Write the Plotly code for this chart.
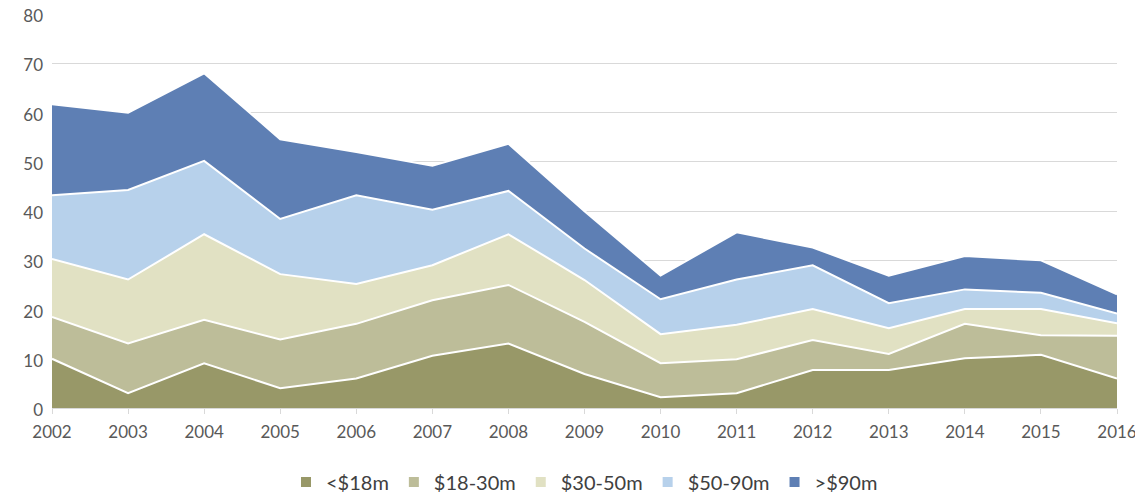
import plotly.graph_objects as go

years = list(range(2002, 2017))

under_18 = [10, 3, 9.1, 4, 6, 10.6, 13.1, 6.9, 2.2, 3, 7.7, 7.7, 10.1, 10.8, 6]
b18_30 = [8.5, 10.1, 8.8, 9.9, 11.1, 11.3, 11.9, 10.6, 6.9, 6.9, 6.1, 3.3, 7, 4, 8.7]
b30_50 = [11.8, 13, 17.4, 13.3, 8.1, 7.1, 10.3, 8.5, 5.9, 7, 6.3, 5.2, 3, 5.3, 2.5]
b50_90 = [12.9, 18.2, 14.9, 11.2, 18, 11.3, 8.8, 6.4, 7.1, 9.2, 8.9, 5.1, 4, 3.3, 2]
over_90 = [18.5, 15.7, 17.8, 16.2, 8.8, 8.9, 9.6, 7.6, 4.8, 9.6, 3.6, 5.6, 6.8, 6.6, 3.9]

series = [
    ("<$18m", under_18, "#989868"),
    ("$18-30m", b18_30, "#bdbd99"),
    ("$30-50m", b30_50, "#e1e1c3"),
    ("$50-90m", b50_90, "#b7d1eb"),
    (">$90m", over_90, "#5e7fb4"),
]

fig = go.Figure()
for name, vals, color in series:
    fig.add_trace(go.Scatter(
        x=years,
        y=vals,
        name=name,
        mode="lines",
        stackgroup="one",
        line=dict(color="#ffffff", width=2),
        fillcolor=color,
        showlegend=False,
    ))

# square legend keys, like the original
for name, vals, color in series:
    fig.add_trace(go.Scatter(
        x=[None],
        y=[None],
        name=name,
        mode="markers",
        marker=dict(symbol="square", size=10, color=color),
    ))

# page body adds an 8px offset, so the figure is a bit smaller than the window
fig.update_layout(
    width=1135,
    height=487,
    margin=dict(l=44, r=26, t=6, b=87, autoexpand=False),
    paper_bgcolor="#ffffff",
    plot_bgcolor="#ffffff",
    font=dict(family="Lato, 'Open Sans', sans-serif", size=17, color="#595959"),
    showlegend=True,
    legend=dict(
        orientation="h",
        x=0.5,
        xanchor="center",
        y=-0.188,
        yanchor="middle",
        font=dict(size=20, color="#404040"),
        traceorder="normal",
        itemwidth=30,
    ),
    xaxis=dict(
        range=[2002, 2016],
        tickmode="array",
        tickvals=years,
        ticktext=[str(y) for y in years],
        showgrid=False,
        showline=True,
        linecolor="#d9d9d9",
        linewidth=1,
        ticks="outside",
        ticklen=5,
        tickcolor="#d9d9d9",
        zeroline=False,
        ticklabelstandoff=4,
        ticklabeloverflow="allow",
    ),
    yaxis=dict(
        range=[0, 80.05],
        tickvals=[0, 10, 20, 30, 40, 50, 60, 70, 80],
        showgrid=True,
        gridcolor="#d9d9d9",
        gridwidth=1,
        zeroline=False,
        ticks="",
        ticklabelstandoff=8,
        ticklabelshift=2,
        ticklabeloverflow="allow",
    ),
)

fig.write_html("out.html")
